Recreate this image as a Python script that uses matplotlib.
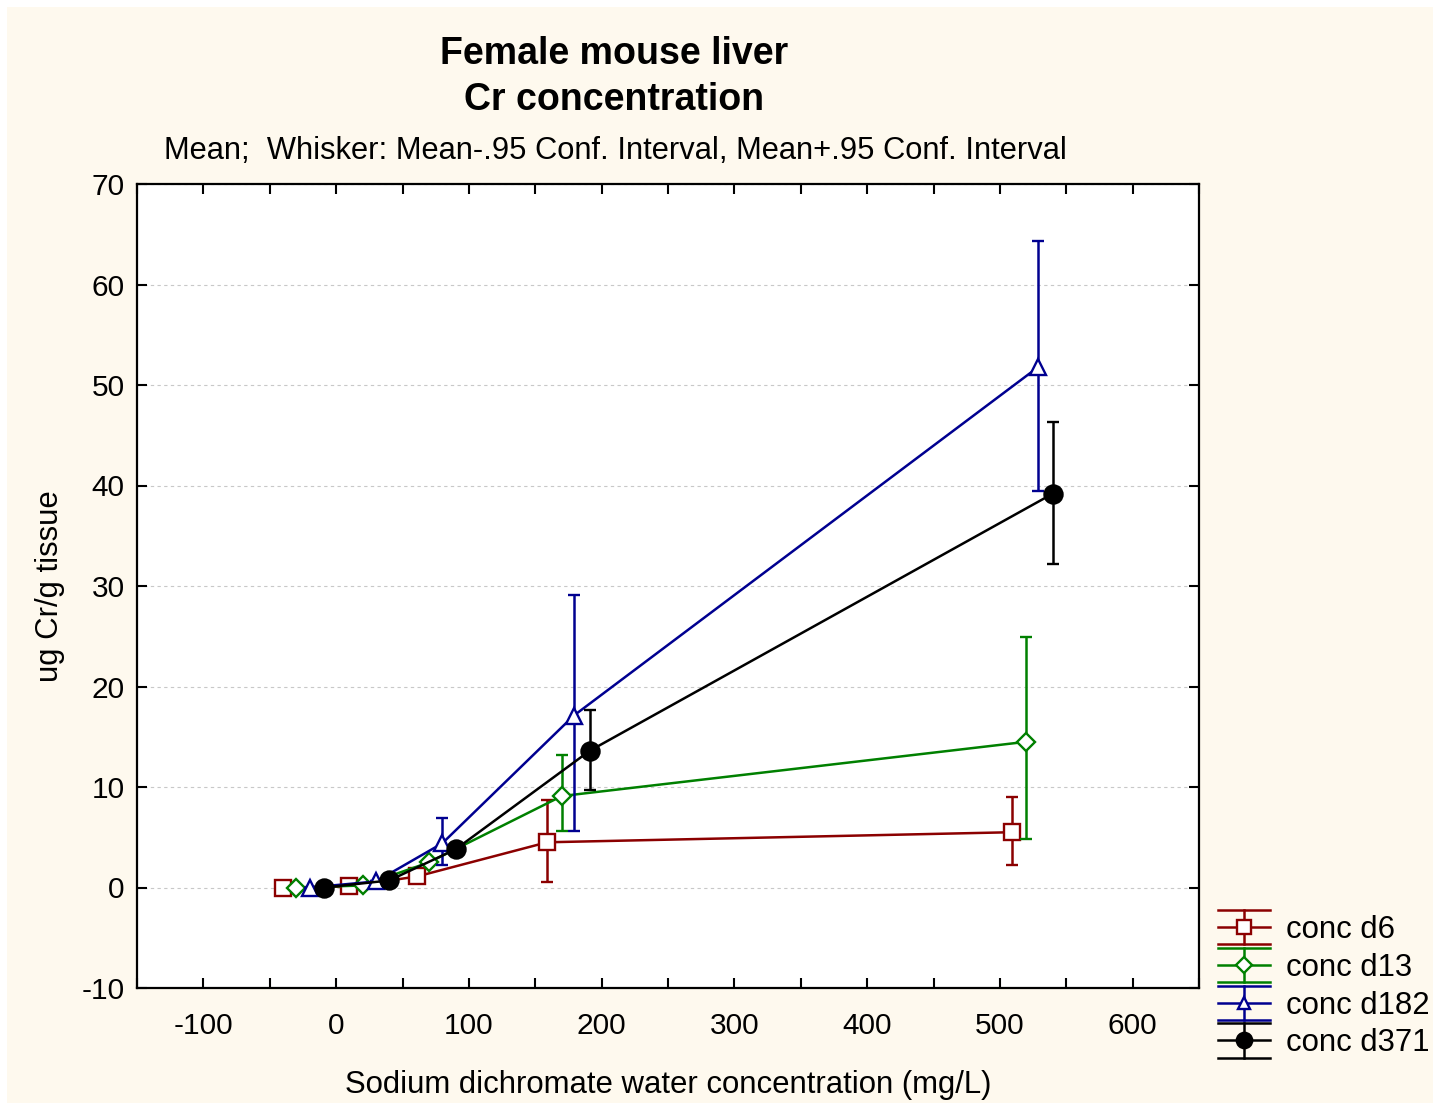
import matplotlib
matplotlib.use("Agg")
import matplotlib.pyplot as plt
from matplotlib.lines import Line2D
from matplotlib.legend_handler import HandlerBase
from matplotlib.patches import Rectangle
from matplotlib.ticker import MultipleLocator

plt.rcParams['font.family'] = ['Liberation Sans', 'DejaVu Sans']
plt.rcParams['axes.unicode_minus'] = False

# ---- data ----
series_names = ["conc d6", "conc d13", "conc d182", "conc d371"]

x_d6 = [-40, 10, 61, 159, 509]
y_d6 = [0.0, 0.1, 1.1, 4.5, 5.5]
lo_d6 = [0.0, 0.1, 1.1, 0.5, 2.2]
hi_d6 = [0.0, 0.1, 1.1, 8.7, 9.0]

x_d13 = [-30, 20, 70, 170, 520]
y_d13 = [0.0, 0.2, 2.5, 9.1, 14.5]
lo_d13 = [0.0, 0.2, 2.5, 5.6, 4.8]
hi_d13 = [0.0, 0.2, 2.5, 13.2, 24.9]

x_d182 = [-20, 30, 80, 179, 529]
y_d182 = [0.0, 0.6, 4.4, 17.1, 51.8]
lo_d182 = [0.0, 0.6, 2.2, 5.6, 39.5]
hi_d182 = [0.0, 0.6, 6.9, 29.1, 64.3]

x_d371 = [-9, 40, 90, 191, 540]
y_d371 = [0.0, 0.7, 3.8, 13.6, 39.2]
lo_d371 = [0.0, 0.7, 3.8, 9.7, 32.2]
hi_d371 = [0.0, 0.7, 3.8, 17.7, 46.3]

xs = [x_d6, x_d13, x_d182, x_d371]
ys = [y_d6, y_d13, y_d182, y_d371]
los = [lo_d6, lo_d13, lo_d182, lo_d371]
his = [hi_d6, hi_d13, hi_d182, hi_d371]

colors = ["#8B0000", "#008000", "#000090", "#000000"]
markers = ["s", "D", "^", "o"]
msizes = [12, 9, 11, 13]
mfaces = ["white", "white", "white", "black"]

W, H = 1440, 1110
fig = plt.figure(figsize=(W / 100, H / 100), dpi=100, facecolor="white")
fig.patches.append(Rectangle((7 / W, 7 / H), 1 - 14 / W, 1 - 14 / H,
                             transform=fig.transFigure, facecolor="#FEF9EE",
                             edgecolor="none", zorder=-10))

ax = fig.add_axes([137 / W, 1 - 988 / H, (1199 - 137) / W, (988 - 184) / H])
ax.set_facecolor("white")

for i in range(4):
    yerr = [[y - l for y, l in zip(ys[i], los[i])],
            [h - y for y, h in zip(ys[i], his[i])]]
    ax.errorbar(xs[i], ys[i], yerr=yerr, color=colors[i], lw=1.8,
                elinewidth=1.8, capsize=4, capthick=1.8,
                marker=markers[i], ms=msizes[i], mfc=mfaces[i],
                mec=colors[i], mew=1.7, zorder=3 + i)

ax.set_xlim(-150, 650)
ax.set_ylim(-10, 70)
ax.xaxis.set_major_locator(MultipleLocator(100))
ax.xaxis.set_minor_locator(MultipleLocator(50))
ax.yaxis.set_major_locator(MultipleLocator(10))
ax.tick_params(which="both", direction="in", top=True, right=True,
               length=7, width=1.5, labelsize=21.5, pad=9)
ax.tick_params(axis="x", pad=17)
for s in ax.spines.values():
    s.set_linewidth(1.6)
ax.yaxis.grid(True, color="#c8c8c8", linestyle=(0, (3, 3)), lw=0.8)
ax.set_axisbelow(True)

ax.set_xlabel("Sodium dichromate water concentration (mg/L)", fontsize=22.4,
              labelpad=22)
ax.set_ylabel("ug Cr/g tissue", fontsize=22.4, labelpad=12)

fig.text(614 / W, 1 - 54 / H, "Female mouse liver", fontsize=27,
         fontweight="bold", ha="center", va="center")
fig.text(614 / W, 1 - 100 / H, "Cr concentration", fontsize=27,
         fontweight="bold", ha="center", va="center")
fig.text(615 / W, 1 - 151 / H,
         "Mean;  Whisker: Mean-.95 Conf. Interval, Mean+.95 Conf. Interval",
         fontsize=22.2, ha="center", va="center")


class ErrHandler(HandlerBase):
    def __init__(self, color, marker, ms, mfc):
        super().__init__()
        self.c, self.m, self.ms, self.mfc = color, marker, ms, mfc

    def create_artists(self, legend, orig_handle, xdescent, ydescent,
                       width, height, fontsize, trans):
        yc = height / 2 - ydescent
        top = yc + 0.55 * fontsize
        bot = yc - 0.55 * fontsize
        xm = width / 2 - xdescent
        arts = []
        for yy in (top, yc, bot):
            arts.append(Line2D([-xdescent, width - xdescent], [yy, yy],
                               color=self.c, lw=1.8))
        arts.append(Line2D([xm, xm], [bot, top], color=self.c, lw=1.8))
        arts.append(Line2D([xm], [yc], marker=self.m, ms=self.ms,
                           mfc=self.mfc, mec=self.c, mew=1.7, ls="none"))
        for a in arts:
            a.set_transform(trans)
        return arts


handles = [Line2D([], [], color=c) for c in colors]
hmap = {h: ErrHandler(colors[i], markers[i], msizes[i] * 0.85, mfaces[i])
        for i, h in enumerate(handles)}
fig.legend(handles, series_names, loc="upper left",
           bbox_to_anchor=(1218 / W, 1 - 915 / H), frameon=False,
           fontsize=22.4, handler_map=hmap, handlelength=1.68,
           handletextpad=0.52, labelspacing=0.25, borderpad=0,
           borderaxespad=0)

fig.savefig("out.png", dpi=100, facecolor=fig.get_facecolor())
